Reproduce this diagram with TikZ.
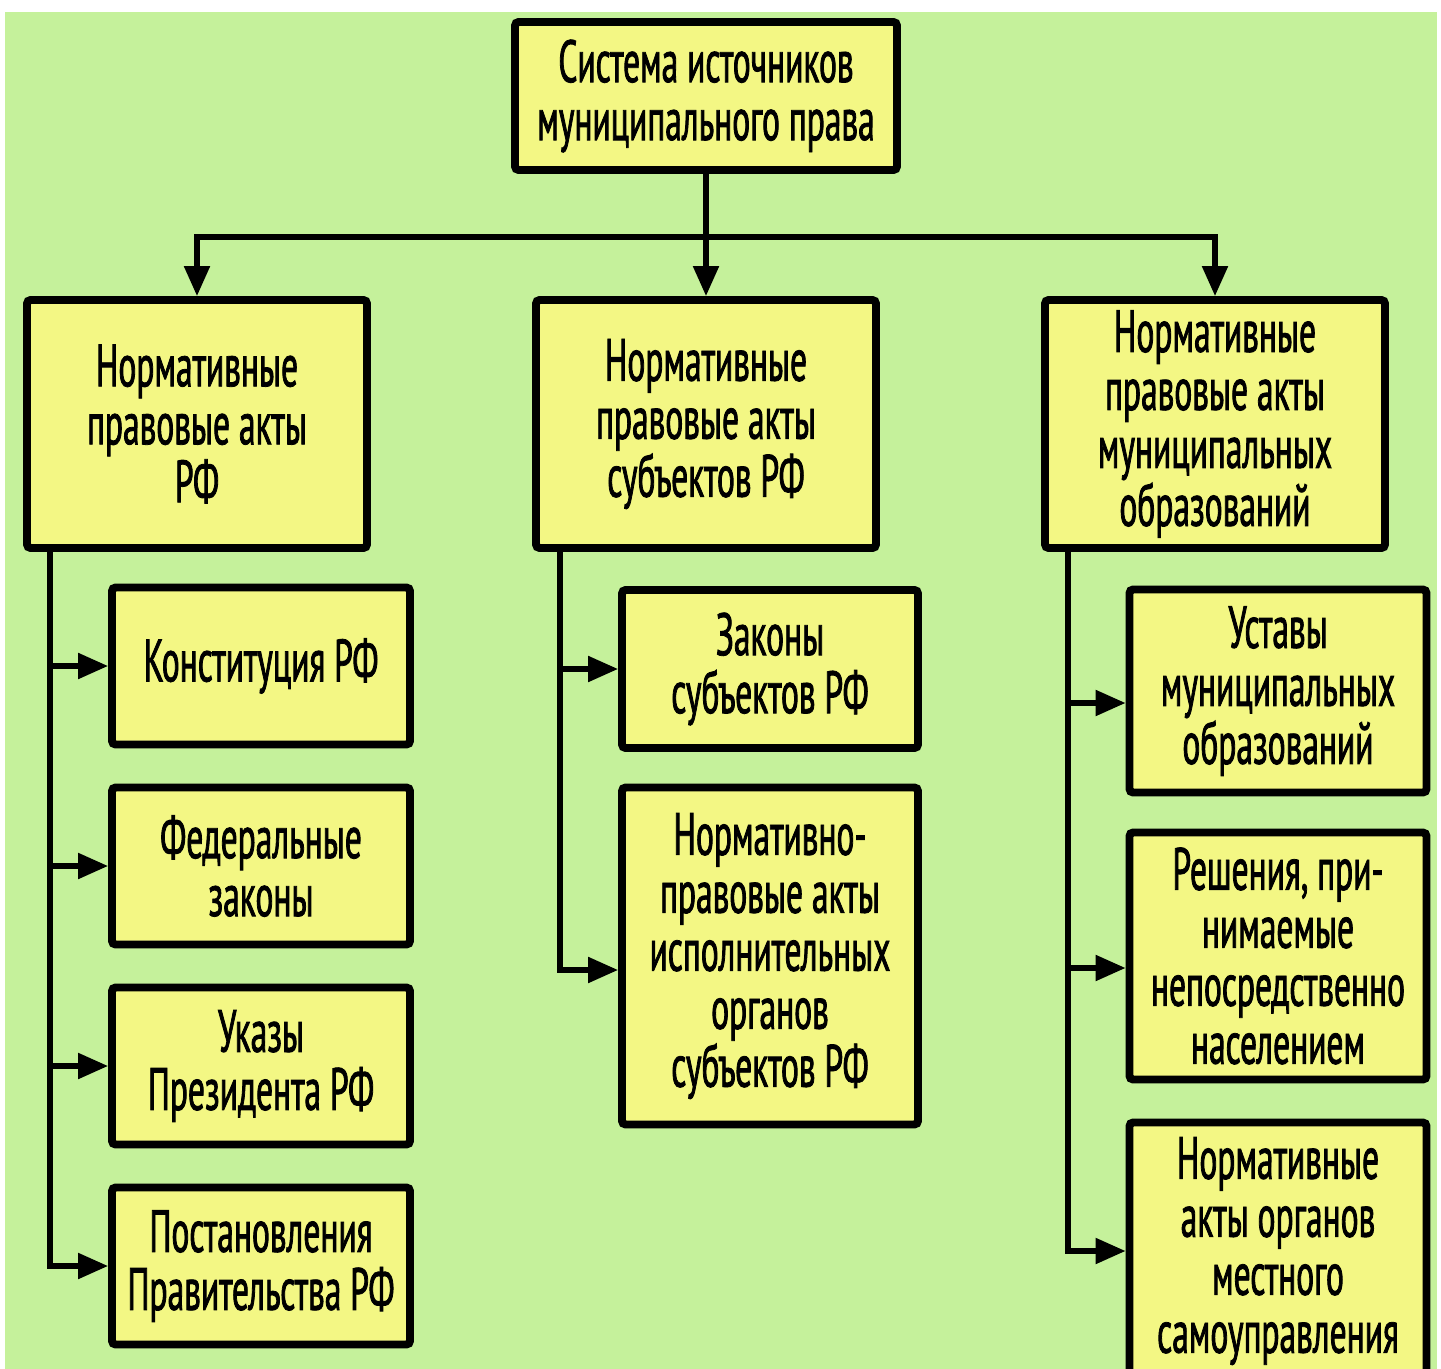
\documentclass[tikz,border=0pt]{standalone}
\usepackage{fontspec}
\setmainfont{PT Sans}[FakeStretch=0.56, FakeBold=1.3]
\usepackage{tikz}
\usetikzlibrary{arrows.meta}
\definecolor{bggreen}{RGB}{197,241,155}
\definecolor{boxyellow}{RGB}{243,247,132}

\begin{document}
\begin{tikzpicture}[x=0.02cm, y=-0.02cm, >={Triangle[length=0.6cm,width=0.5cm]},
    lvl/.style={minimum width=6.8cm, minimum height=4.96cm},
    leafl/.style={minimum width=5.96cm},
    leafm/.style={minimum width=5.92cm},
    leafr/.style={minimum width=5.94cm}]
   \clip (0,0) rectangle (1441,1369);
   \fill[white] (0,0) rectangle (1441,1369);
   \fill[bggreen] (5,12) rectangle (1437,1369);
   \begin{scope}[every node/.style={rectangle, draw=black, line width=4.5pt, rounded corners=2pt, fill=boxyellow, align=center, inner sep=0pt, font=\fontsize{34}{33}\selectfont}]
    \node (top) [minimum width=7.64cm, minimum height=2.96cm] at (706,96) {Система источников\\муниципального права};
    % first level
    \node (l1) [lvl] at (197,424) {Нормативные\\правовые акты\\РФ};
    \node (m1) [lvl] at (706,424) {Нормативные\\правовые акты\\субъектов РФ};
    \node (r1) [lvl] at (1215,424) {Нормативные\\правовые акты\\муниципальных\\образований};
    % left column
    \node (lc1) [leafl, minimum height=3.14cm] at (261,666) {Конституция РФ};
    \node (lc2) [leafl, minimum height=3.14cm] at (261,866) {Федеральные\\законы};
    \node (lc3) [leafl, minimum height=3.14cm] at (261,1066) {Указы\\Президента РФ};
    \node (lc4) [leafl, minimum height=3.14cm] at (261,1266) {Постановления\\Правительства РФ};
    % middle column
    \node (mc1) [leafm, minimum height=3.16cm] at (770,669) {Законы\\субъектов РФ};
    \node (mc2) [leafm, minimum height=6.74cm] at (770,956) {Нормативно-\\правовые акты\\исполнительных\\органов\\субъектов РФ};
    % right column
    \node (rc1) [leafr, minimum height=4.06cm] at (1278,691) {Уставы\\муниципальных\\образований};
    \node (rc2) [leafr, minimum height=4.94cm] at (1278,956) {Решения, при-\\нимаемые\\непосредственно\\населением};
    \node (rc3) [leafr, minimum height=5.14cm] at (1278,1251) {Нормативные\\акты органов\\местного\\самоуправления};
   \end{scope}
   \coordinate (bus) at (706,237);
   \coordinate (lspine) at (50,548);
   \coordinate (mspine) at (560,548);
   \coordinate (rspine) at (1068,548);
   \begin{scope}[->, line width=3pt]
    \draw (top) -- (m1);
    \draw (bus) -| (l1.north);
    \draw (bus) -| (r1.north);
    \draw (lspine) |- (lc1);
    \draw (lspine) |- (lc2);
    \draw (lspine) |- (lc3);
    \draw (lspine) |- (lc4);
    \draw (mspine) |- (mc1);
    \draw (mspine) |- ([yshift=-0.28cm]mc2.west);
    \draw (rspine) |- ([yshift=-0.24cm]rc1.west);
    \draw (rspine) |- ([yshift=-0.24cm]rc2.west);
    \draw (rspine) |- (rc3);
   \end{scope}
\end{tikzpicture}
\end{document}
